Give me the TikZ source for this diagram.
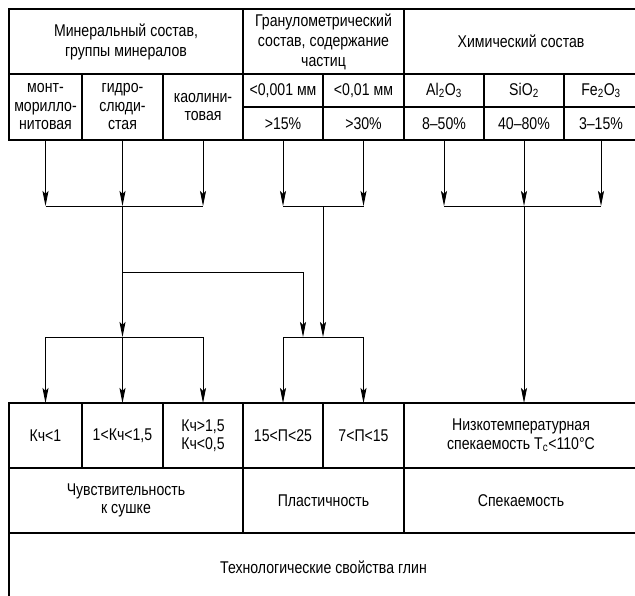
\documentclass[tikz,border=0pt]{standalone}
\usepackage{fontspec}
\setmainfont[FakeStretch=0.83]{Liberation Sans}
\usetikzlibrary{arrows.meta}
\begin{document}
\begin{tikzpicture}[x=1pt,y=-1pt,
  cell/.style={draw, line width=1.2pt, inner sep=0pt, outer sep=0pt, anchor=north west,
    align=center, font=\fontsize{17}{18.5}\selectfont},
  hdr/.style={cell, font=\fontsize{17}{20}\selectfont},
  conn/.style={line width=0.9pt},
  arr/.style={conn, -{Stealth[length=15pt,width=6pt,inset=3pt]}}]
\useasboundingbox (0,0) rectangle (635,595);
% top table
\node[hdr, minimum width=234, minimum height=65] (mh) at (9,9) {Минеральный состав,\\группы минералов};
\node[hdr, minimum width=161, minimum height=65] (gh) at (243,9) {Гранулометрический\\состав, содержание\\частиц};
\node[hdr, minimum width=234, minimum height=65] (ch) at (404,9) {Химический состав};
\node[cell, minimum width=73, minimum height=66] (m1) at (9,74) {монт-\\морилло-\\нитовая};
\node[cell, minimum width=81, minimum height=66] (m2) at (82,74) {гидро-\\слюди-\\стая};
\node[cell, minimum width=80, minimum height=66] (m3) at (163,74) {каолини-\\товая};
\node[cell, minimum width=80, minimum height=33] (g1) at (243,74) {<0,001 мм};
\node[cell, minimum width=81, minimum height=33] (g2) at (323,74) {<0,01 мм};
\node[cell, minimum width=80, minimum height=33] (g3) at (243,107) {>15\%};
\node[cell, minimum width=81, minimum height=33] (g4) at (323,107) {>30\%};
\node[cell, minimum width=80, minimum height=33] (c1) at (404,74) {Al\textsubscript{2}O\textsubscript{3}};
\node[cell, minimum width=80, minimum height=33] (c2) at (484,74) {SiO\textsubscript{2}};
\node[cell, minimum width=74, minimum height=33] (c3) at (564,74) {Fe\textsubscript{2}O\textsubscript{3}};
\node[cell, minimum width=80, minimum height=33] (c4) at (404,107) {8–50\%};
\node[cell, minimum width=80, minimum height=33] (c5) at (484,107) {40–80\%};
\node[cell, minimum width=74, minimum height=33] (c6) at (564,107) {3–15\%};
% bottom table
\node[cell, minimum width=73, minimum height=65] (b1) at (9,403) {Кч<1};
\node[cell, minimum width=81, minimum height=65] (b2) at (82,403) {1<Кч<1,5};
\node[cell, minimum width=80, minimum height=65] (b3) at (163,403) {Кч>1,5\\Кч<0,5};
\node[cell, minimum width=80, minimum height=65] (b4) at (243,403) {15<П<25};
\node[cell, minimum width=81, minimum height=65] (b5) at (323,403) {7<П<15};
\node[cell, minimum width=234, minimum height=65] (b6) at (404,403) {Низкотемпературная\\спекаемость T\textsubscript{c}<110°C};
\node[cell, minimum width=234, minimum height=65] (s1) at (9,468) {Чувствительность\\к сушке};
\node[cell, minimum width=161, minimum height=65] (s2) at (243,468) {Пластичность};
\node[cell, minimum width=234, minimum height=65] (s3) at (404,468) {Спекаемость};
\node[cell, minimum width=629, minimum height=68] (t) at (9,533) {Технологические свойства глин};
% junctions
\coordinate (jm) at (122.5,206);
\coordinate (jg) at (323,206);
\coordinate (jc) at (524,206);
\coordinate (km) at (122.5,337);
\coordinate (kg) at (323,337);
\coordinate (br) at (122.5,272);
\coordinate (bt) at (303,272);
% connectors
\foreach \n in {m1,m2,m3} \draw[arr] (\n.south) -- (\n.south |- jm);
\draw[conn] (m1.south |- jm) -- (m3.south |- jm);
\foreach \n in {g3,g4} \draw[arr] (\n.south) -- (\n.south |- jg);
\draw[conn] (g3.south |- jg) -- (g4.south |- jg);
\foreach \n in {c4,c5,c6} \draw[arr] (\n.south) -- (\n.south |- jc);
\draw[conn] (c4.south |- jc) -- (c6.south |- jc);
\draw[arr] (jm) -- (km);
\draw[conn] (br) -- (bt);
\draw[arr] (bt) -- (bt |- kg);
\draw[arr] (jg) -- (kg);
\draw[conn] (b1.north |- km) -- (b3.north |- km);
\foreach \n in {b1,b2,b3} \draw[arr] (\n.north |- km) -- (\n.north);
\draw[conn] (b4.north |- kg) -- (b5.north |- kg);
\foreach \n in {b4,b5} \draw[arr] (\n.north |- kg) -- (\n.north);
\draw[arr] (jc) -- (jc |- b6.north);
\end{tikzpicture}
\end{document}
